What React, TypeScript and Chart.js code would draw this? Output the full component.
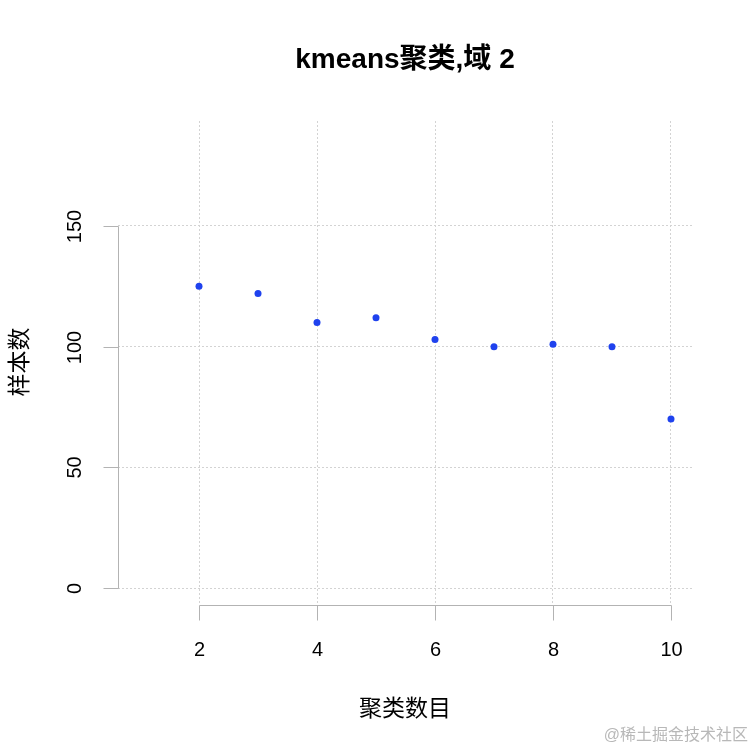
import React, { useEffect, useRef } from "react";
import { Chart, registerables } from "chart.js";

Chart.register(...registerables);

const clusterCounts = [2, 3, 4, 5, 6, 7, 8, 9, 10];
const sampleCounts = [125, 122, 110, 112, 103, 100, 101, 100, 70];
const xTickValues = [2, 4, 6, 8, 10];
const yTickValues = [0, 50, 100, 150];
const chartTitle = "kmeans聚类,域 2";
const xAxisTitle = "聚类数目";
const yAxisTitle = "样本数";
const watermarkText = "@稀土掘金技术社区";

const FONT = '"Liberation Sans", Arial, "Noto Sans CJK SC", sans-serif';

const rAxesPlugin = {
  id: "rAxes",
  afterDatasetsDraw(chart: any) {
    const ctx = chart.ctx as CanvasRenderingContext2D;
    const xs = chart.scales.x;
    const ys = chart.scales.y;
    const area = chart.chartArea;
    ctx.save();
    ctx.strokeStyle = "#b3b3b3";
    ctx.lineWidth = 1;
    ctx.setLineDash([]);

    // y axis (left edge of plot region)
    const yAxisX = Math.round(area.left) + 0.5;
    const yPix = yTickValues.map((v) => Math.round(ys.getPixelForValue(v)) + 0.5);
    ctx.beginPath();
    ctx.moveTo(yAxisX, yPix[0]);
    ctx.lineTo(yAxisX, yPix[yPix.length - 1]);
    yPix.forEach((p) => {
      ctx.moveTo(yAxisX, p);
      ctx.lineTo(yAxisX - 15, p);
    });
    ctx.stroke();

    // x axis (bottom edge of plot region)
    const xAxisY = Math.round(area.bottom) + 0.5;
    const xPix = xTickValues.map((v) => Math.round(xs.getPixelForValue(v)) + 0.5);
    ctx.beginPath();
    ctx.moveTo(xPix[0], xAxisY);
    ctx.lineTo(xPix[xPix.length - 1], xAxisY);
    xPix.forEach((p) => {
      ctx.moveTo(p, xAxisY);
      ctx.lineTo(p, xAxisY + 15);
    });
    ctx.stroke();

    // tick labels
    ctx.fillStyle = "#000";
    ctx.font = `20px ${FONT}`;
    ctx.textAlign = "center";
    ctx.textBaseline = "middle";
    xTickValues.forEach((v, i) => {
      ctx.fillText(String(v), xPix[i], 650);
    });
    yTickValues.forEach((v, i) => {
      ctx.save();
      ctx.translate(75, yPix[i]);
      ctx.rotate(-Math.PI / 2);
      ctx.fillText(String(v), 0, 0);
      ctx.restore();
    });

    const cx = (area.left + area.right) / 2;

    // title
    ctx.font = `bold 28px ${FONT}`;
    ctx.textBaseline = "alphabetic";
    ctx.fillText(chartTitle, cx, 68);

    // axis titles
    ctx.font = `23px ${FONT}`;
    ctx.textBaseline = "middle";
    ctx.fillText(xAxisTitle, cx, 710);
    ctx.save();
    ctx.translate(21, 362);
    ctx.rotate(-Math.PI / 2);
    ctx.fillText(yAxisTitle, 0, 0);
    ctx.restore();

    // watermark
    ctx.font = `16px ${FONT}`;
    ctx.fillStyle = "#b8b8b8";
    ctx.textAlign = "right";
    ctx.fillText(watermarkText, 748, 736);

    ctx.restore();
  },
};

export default function App() {
  const canvasRef = useRef<HTMLCanvasElement | null>(null);

  useEffect(() => {
    document.body.style.margin = "0";
    const canvas = canvasRef.current;
    if (!canvas) return;
    const chart = new Chart(canvas, {
      type: "scatter",
      data: {
        datasets: [
          {
            data: clusterCounts.map((x, i) => ({ x, y: sampleCounts[i] })),
            backgroundColor: "#1f42ee",
            borderWidth: 0,
            pointRadius: 3.5,
            pointHoverRadius: 3.5,
          },
        ],
      },
      options: {
        responsive: false,
        animation: false,
        devicePixelRatio: 1,
        layout: { padding: { left: 118, top: 121, right: 61, bottom: 148 } },
        plugins: {
          legend: { display: false },
          tooltip: { enabled: false },
          title: { display: false },
        },
        scales: {
          x: {
            type: "linear",
            min: 0.627,
            max: 10.356,
            afterBuildTicks: (s: any) => {
              s.ticks = xTickValues.map((v) => ({ value: v }));
            },
            ticks: { display: false },
            grid: { color: "#d3d3d3", lineWidth: 1, drawTicks: false },
            border: { display: false, dash: [2, 2] },
          },
          y: {
            type: "linear",
            min: -7.04,
            max: 193.5,
            afterBuildTicks: (s: any) => {
              s.ticks = yTickValues.map((v) => ({ value: v }));
            },
            ticks: { display: false },
            grid: { color: "#d3d3d3", lineWidth: 1, drawTicks: false },
            border: { display: false, dash: [2, 2] },
          },
        },
      },
      plugins: [rAxesPlugin],
    } as any);
    return () => chart.destroy();
  }, []);

  return (
    <div style={{ width: 753, height: 753, background: "#fff" }}>
      <canvas ref={canvasRef} width={753} height={753} style={{ display: "block" }} />
    </div>
  );
}
